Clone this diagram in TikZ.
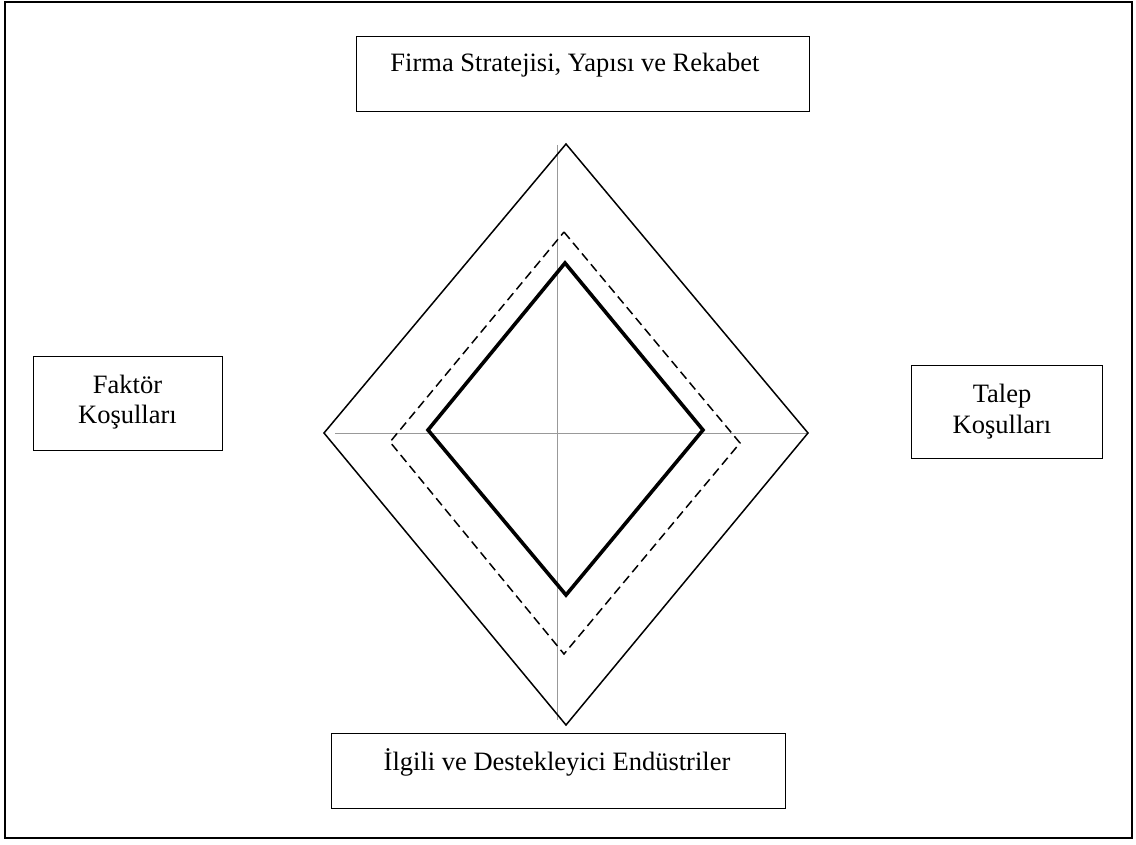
\documentclass[tikz,border=0pt]{standalone}
\usepackage{fontspec}
\setmainfont{Liberation Serif}
\begin{document}
\begin{tikzpicture}[x=1pt,y=-1pt,
  frame/.style={draw=black,line width=1.6pt},
  boxnode/.style={draw=black,line width=1.4pt,rectangle,inner sep=0pt,anchor=north west},
  lbl/.style={font=\fontsize{26.5}{30}\selectfont,inner sep=0pt,anchor=base},
  axis/.style={draw=black!40,line width=1pt},
  outerd/.style={draw=black,line width=1.5pt,line join=miter},
  dashd/.style={draw=black,line width=1.5pt,dash pattern=on 9pt off 5pt},
  thickd/.style={draw=black,line width=3.6pt,line join=miter}]
\useasboundingbox (0,0) rectangle (1136,845);
\fill[white] (0,0) rectangle (1136,845);
\draw[frame] (5,2) rectangle (1132,838);
% boxes
\node[boxnode,minimum width=453pt,minimum height=75pt] (top) at (356,36) {};
\node[lbl] (toptext) at (575,72) {Firma Stratejisi, Yapısı ve Rekabet};
\node[boxnode,minimum width=189pt,minimum height=94pt] (left) at (33,356) {};
\node[lbl] (lefta) at (127.5,393) {Faktör};
\node[lbl] (leftb) at (127.5,423) {Koşulları};
\node[boxnode,minimum width=191pt,minimum height=93pt] (right) at (911,365) {};
\node[lbl] (righta) at (1002,402) {Talep};
\node[lbl] (rightb) at (1002,433) {Koşulları};
\node[boxnode,minimum width=454pt,minimum height=75pt] (bottom) at (331,733) {};
\node[lbl] (bottomtext) at (557,770) {İlgili ve Destekleyici Endüstriler};
% axes
\coordinate (vtop) at (557,145);
\coordinate (vbot) at (557,720);
\coordinate (hl) at (335,433);
\coordinate (hr) at (808,433);
\draw[axis] (vtop) -- (vbot);
\draw[axis] (hl) -- (hr);
% outer diamond
\coordinate (oN) at (566,144);
\coordinate (oE) at (808,433);
\coordinate (oS) at (566,725);
\coordinate (oW) at (324,433);
\draw[outerd] (oN) -- (oE) -- (oS) -- (oW) -- cycle;
% dashed diamond
\coordinate (dN) at (564,232);
\coordinate (dE) at (740,443);
\coordinate (dS) at (564,654);
\coordinate (dW) at (390,442);
\draw[dashd] (dN) -- (dE) -- (dS) -- (dW) -- cycle;
% thick diamond
\coordinate (tN) at (565,263);
\coordinate (tE) at (703,430);
\coordinate (tS) at (566,595);
\coordinate (tW) at (428,430);
\draw[thickd] (tN) -- (tE) -- (tS) -- (tW) -- cycle;
\end{tikzpicture}
\end{document}
